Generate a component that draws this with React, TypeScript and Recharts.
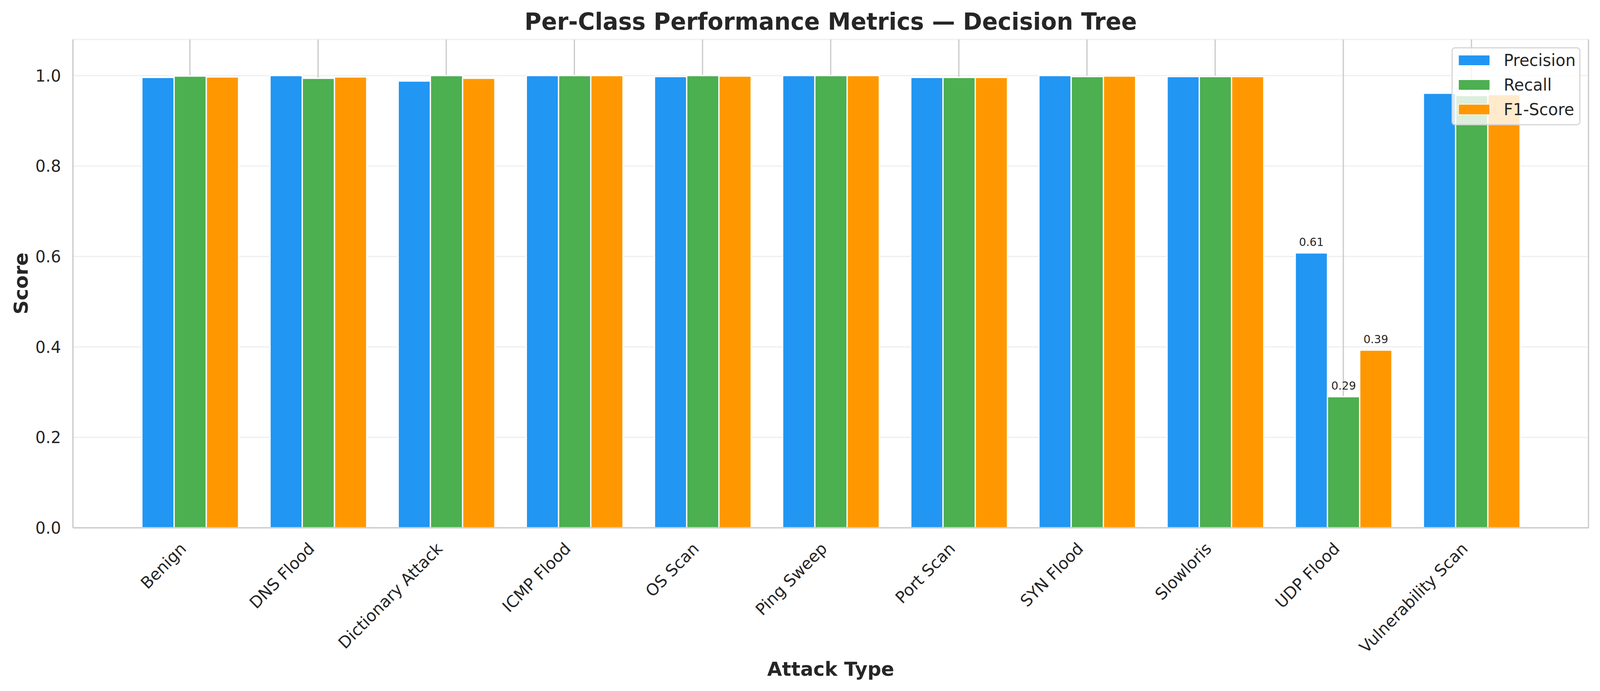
import React from 'react';
import { BarChart, Bar, XAxis, YAxis, CartesianGrid, Legend, LabelList } from 'recharts';

const categories = [
  'Benign', 'DNS Flood', 'Dictionary Attack', 'ICMP Flood', 'OS Scan', 'Ping Sweep',
  'Port Scan', 'SYN Flood', 'Slowloris', 'UDP Flood', 'Vulnerability Scan',
];
const precision = [0.996, 1.0, 0.988, 1.0, 0.998, 1.0, 0.996, 1.0, 0.998, 0.608, 0.961];
const recall = [0.999, 0.994, 1.0, 1.0, 1.0, 1.0, 0.996, 0.998, 0.998, 0.29, 0.956];
const f1Score = [0.997, 0.997, 0.994, 1.0, 0.999, 1.0, 0.996, 0.999, 0.998, 0.393, 0.958];
const yTicks = [0, 0.2, 0.4, 0.6, 0.8, 1.0];
const seriesNames = ['Precision', 'Recall', 'F1-Score'];

const data = categories.map((name, i) => ({
  name,
  precision: precision[i],
  recall: recall[i],
  f1: f1Score[i],
}));

const W = 4170;
const H = 1770;
const FONT = '"DejaVu Sans", sans-serif';
const TEXT = '#262626';
const LINE = '#cccccc';

if (typeof document !== 'undefined') {
  document.documentElement.style.overflow = 'hidden';
  document.body.style.margin = '0';
  document.body.style.overflow = 'hidden';
}

const XTick = (props: any) => {
  const { x, y, payload } = props;
  const ax = x - 7;
  const ay = y + 56;
  return (
    <text
      x={ax}
      y={ay}
      transform={`rotate(-45, ${ax}, ${ay})`}
      textAnchor="end"
      fontSize={42}
      fontFamily={FONT}
      fill={TEXT}
    >
      {payload.value}
    </text>
  );
};

const BarValueLabel = (props: any) => {
  const { x, y, width, value } = props;
  if (value === undefined || value >= 0.9) return null;
  return (
    <text
      x={Number(x) + Number(width) / 2}
      y={Number(y) - 18}
      textAnchor="middle"
      fontSize={29}
      fontFamily={FONT}
      fill={TEXT}
    >
      {Number(value).toFixed(2)}
    </text>
  );
};

const LegendBox = (props: any) => {
  const payload = [...(props.payload || [])].sort(
    (a: any, b: any) => seriesNames.indexOf(a.value) - seriesNames.indexOf(b.value)
  );
  return (
    <div
      style={{
        position: 'relative',
        width: 336,
        height: 200,
        boxSizing: 'border-box',
        border: '3.3px solid rgba(204,204,204,0.8)',
        borderRadius: 9,
        background: 'rgba(255,255,255,0.8)',
        fontFamily: FONT,
      }}
    >
      {payload.map((p: any, i: number) => (
        <div key={p.value}>
          <div
            style={{
              position: 'absolute',
              left: 16,
              top: 30.7 + 63 * i - 12.5,
              width: 80,
              height: 25,
              background: p.color,
              boxShadow: '0 0 0 1.7px #ffffff',
            }}
          />
          <div
            style={{
              position: 'absolute',
              left: 133,
              top: 30.7 + 63 * i - 25,
              height: 50,
              lineHeight: '50px',
              fontSize: 42,
              color: TEXT,
              whiteSpace: 'nowrap',
            }}
          >
            {p.value}
          </div>
        </div>
      ))}
    </div>
  );
};

export default function App() {
  const vw = typeof window !== 'undefined' && window.innerWidth ? window.innerWidth : W;
  const vh = typeof window !== 'undefined' && window.innerHeight ? window.innerHeight : H;
  const sx = vw / W;
  const sy = vh / H;
  return (
    <div
      style={{
        position: 'fixed',
        left: 0,
        top: 0,
        width: W,
        height: H,
        background: '#ffffff',
        transform: `scale(${sx}, ${sy})`,
        transformOrigin: '0 0',
      }}
    >
      <BarChart
        width={W}
        height={H}
        data={data}
        margin={{ top: 101, right: 30, bottom: 118, left: 90 }}
        barCategoryGap={41.75}
        barGap={0}
      >
        <CartesianGrid vertical={false} stroke="#f0f0f0" strokeWidth={3.3} />
        <CartesianGrid horizontal={false} stroke={LINE} strokeWidth={3.3} />
        <XAxis
          dataKey="name"
          height={300}
          interval={0}
          padding={{ left: 138, right: 138 }}
          tickLine={false}
          tickSize={0}
          tickMargin={0}
          axisLine={{ stroke: LINE, strokeWidth: 3.3 }}
          tick={<XTick />}
        />
        <XAxis
          xAxisId="top"
          dataKey="name"
          orientation="top"
          height={0}
          padding={{ left: 138, right: 138 }}
          tick={false}
          tickLine={false}
          axisLine={{ stroke: LINE, strokeWidth: 3.3 }}
        />
        <YAxis
          width={100}
          domain={[0, 1.08]}
          ticks={yTicks}
          allowDataOverflow
          tickFormatter={(v: number) => v.toFixed(1)}
          tickLine={false}
          tickSize={0}
          tickMargin={31}
          axisLine={{ stroke: LINE, strokeWidth: 3.3 }}
          tick={{ fontSize: 42, fontFamily: FONT, fill: TEXT }}
        />
        <YAxis
          yAxisId="right"
          orientation="right"
          width={0}
          domain={[0, 1.08]}
          tick={false}
          tickLine={false}
          axisLine={{ stroke: LINE, strokeWidth: 3.3 }}
        />
        <Legend
          layout="vertical"
          align="center"
          verticalAlign="middle"
          content={<LegendBox />}
          wrapperStyle={{ left: 3783, top: 121, width: 336, height: 200 }}
        />
        <Bar dataKey="precision" name="Precision" fill="#2196F3" stroke="#ffffff" strokeWidth={3.3} isAnimationActive={false}>
          <LabelList dataKey="precision" content={<BarValueLabel />} />
        </Bar>
        <Bar dataKey="recall" name="Recall" fill="#4CAF50" stroke="#ffffff" strokeWidth={3.3} isAnimationActive={false}>
          <LabelList dataKey="recall" content={<BarValueLabel />} />
        </Bar>
        <Bar dataKey="f1" name="F1-Score" fill="#FF9800" stroke="#ffffff" strokeWidth={3.3} isAnimationActive={false}>
          <LabelList dataKey="f1" content={<BarValueLabel />} />
        </Bar>
      </BarChart>
      <svg
        width={W}
        height={H}
        style={{ position: 'absolute', left: 0, top: 0, pointerEvents: 'none' }}
      >
        <text x={2165} y={76} textAnchor="middle" fontSize={60} fontWeight="bold" fontFamily={FONT} fill={TEXT}>
          Per-Class Performance Metrics — Decision Tree
        </text>
        <text x={2165} y={1731} textAnchor="middle" fontSize={50} fontWeight="bold" fontFamily={FONT} fill={TEXT}>
          Attack Type
        </text>
        <text
          x={72}
          y={726}
          transform="rotate(-90, 72, 726)"
          textAnchor="middle"
          fontSize={50}
          fontWeight="bold"
          fontFamily={FONT}
          fill={TEXT}
        >
          Score
        </text>
      </svg>
    </div>
  );
}
